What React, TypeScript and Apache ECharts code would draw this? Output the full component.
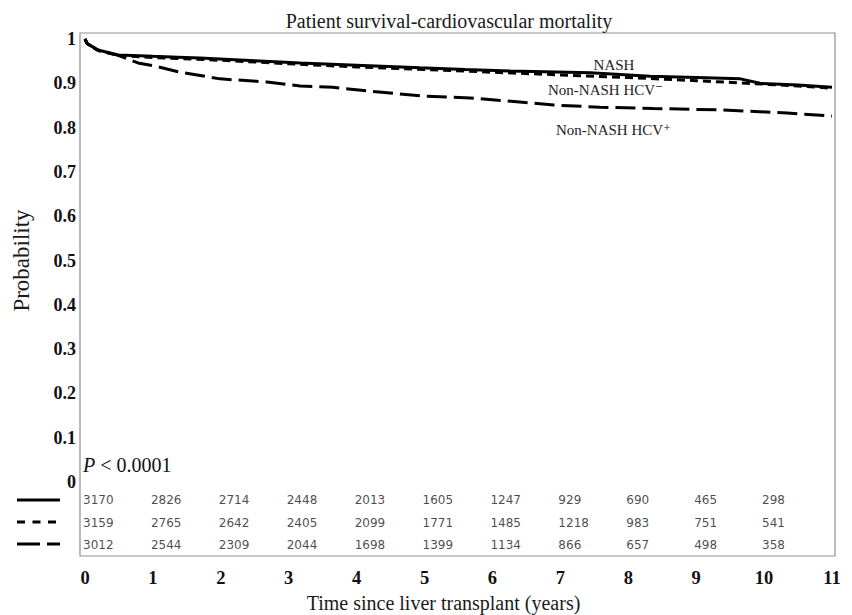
import React, { useEffect, useRef } from "react";
import * as echarts from "echarts";

const yearTicks = [0, 1, 2, 3, 4, 5, 6, 7, 8, 9, 10, 11];
const groupNames = ["NASH", "Non-NASH HCV\u207B", "Non-NASH HCV\u207A"];

const nashTime = [0, 0.03, 0.19, 0.49, 1.0, 1.37, 1.69, 2.5, 3.17, 4.0, 4.93, 5.6, 6.26, 7.44, 8.32, 9.0, 9.65, 9.94, 10.5, 11];
const nashSurv = [1.0, 0.99, 0.975, 0.964, 0.961, 0.959, 0.957, 0.951, 0.946, 0.941, 0.935, 0.931, 0.928, 0.924, 0.916, 0.913, 0.91, 0.9, 0.896, 0.891];

const hcvNegTime = [0, 0.03, 0.19, 0.49, 1.0, 2.0, 3.0, 4.0, 5.0, 6.0, 7.0, 8.0, 9.0, 10.0, 10.5, 11];
const hcvNegSurv = [1.0, 0.99, 0.974, 0.963, 0.958, 0.952, 0.944, 0.937, 0.931, 0.925, 0.919, 0.913, 0.906, 0.898, 0.894, 0.889];

const hcvPosTime = [0, 0.03, 0.19, 0.49, 0.78, 1.0, 1.37, 1.99, 2.68, 3.17, 3.65, 4.15, 4.98, 5.67, 6.4, 6.9, 7.58, 8.37, 9.35, 10.34, 11];
const hcvPosSurv = [1.0, 0.99, 0.975, 0.963, 0.946, 0.94, 0.926, 0.91, 0.903, 0.894, 0.891, 0.883, 0.871, 0.867, 0.858, 0.851, 0.846, 0.843, 0.84, 0.833, 0.826];

const riskNash = [3170, 2826, 2714, 2448, 2013, 1605, 1247, 929, 690, 465, 298];
const riskHcvNeg = [3159, 2765, 2642, 2405, 2099, 1771, 1485, 1218, 983, 751, 541];
const riskHcvPos = [3012, 2544, 2309, 2044, 1698, 1399, 1134, 866, 657, 498, 358];

const SERIF = "'Liberation Serif', 'DejaVu Serif', serif";

export default function App() {
  const ref = useRef<HTMLDivElement>(null);

  useEffect(() => {
    document.body.style.margin = "0";
    document.body.style.overflow = "hidden";
    if (!ref.current) return;
    const chart = echarts.init(ref.current, undefined, { renderer: "svg" });

    const pairs = (t: number[], v: number[]) => t.map((x, i) => [x, v[i]]);
    const riskRows = [riskNash, riskHcvNeg, riskHcvPos];
    const riskData: any[] = [];
    riskRows.forEach((row, r) => {
      row.forEach((n, i) => riskData.push([yearTicks[i], groupNames[r], n]));
    });

    const option: any = {
      animation: false,
      backgroundColor: "#ffffff",
      title: {
        text: "Patient survival-cardiovascular mortality",
        left: 444,
        textAlign: "center",
        top: 6,
        textStyle: { fontFamily: SERIF, fontSize: 20, fontWeight: "normal", color: "#1a1a1a" },
      },
      grid: [
        { left: 85, right: 20, top: 39, bottom: 133 },
        { left: 85, right: 20, top: 489, bottom: 59 },
      ],
      xAxis: [
        { gridIndex: 0, type: "value", min: 0, max: 11, interval: 1, show: false },
        {
          gridIndex: 1,
          type: "value",
          min: 0,
          max: 11,
          interval: 1,
          axisLine: { show: false },
          axisTick: { show: false },
          splitLine: { show: false },
          axisLabel: { margin: 12, fontFamily: SERIF, fontSize: 18.5, fontWeight: "bold", color: "#111" },
          name: "Time since liver transplant (years)",
          nameLocation: "middle",
          nameGap: 37,
          nameTextStyle: { fontFamily: SERIF, fontSize: 20, color: "#1a1a1a", padding: [0, 0, 0, -30] },
        },
      ],
      yAxis: [
        {
          gridIndex: 0,
          type: "value",
          min: 0,
          max: 1,
          interval: 0.1,
          axisLine: { show: false },
          axisTick: { show: false },
          splitLine: { show: false },
          axisLabel: {
            margin: 9,
            fontFamily: SERIF,
            fontSize: 18,
            fontWeight: "bold",
            color: "#111",
            formatter: (v: number) => (v === 0 ? "0" : v === 1 ? "1" : v.toFixed(1)),
          },
          name: "Probability",
          nameLocation: "middle",
          nameGap: 52,
          nameTextStyle: { fontFamily: SERIF, fontSize: 23, color: "#1a1a1a" },
        },
        {
          gridIndex: 1,
          type: "category",
          data: groupNames,
          inverse: true,
          show: false,
        },
      ],
      series: [
        {
          name: groupNames[0],
          type: "line",
          xAxisIndex: 0,
          yAxisIndex: 0,
          data: pairs(nashTime, nashSurv),
          showSymbol: false,
          lineStyle: { color: "#000", width: 3, type: "solid" },
          z: 4,
        },
        {
          name: groupNames[1],
          type: "line",
          xAxisIndex: 0,
          yAxisIndex: 0,
          data: pairs(hcvNegTime, hcvNegSurv),
          showSymbol: false,
          lineStyle: { color: "#000", width: 3, type: [8, 5] },
          z: 3,
        },
        {
          name: groupNames[2],
          type: "line",
          xAxisIndex: 0,
          yAxisIndex: 0,
          data: pairs(hcvPosTime, hcvPosSurv),
          showSymbol: false,
          lineStyle: { color: "#000", width: 3, type: [20, 7] },
          z: 3,
        },
        {
          type: "scatter",
          xAxisIndex: 1,
          yAxisIndex: 1,
          data: riskData,
          symbolSize: 0,
          silent: true,
          label: {
            show: true,
            position: "right",
            distance: -2,
            align: "left",
            verticalAlign: "middle",
            fontFamily: "'DejaVu Sans', sans-serif",
            fontSize: 12,
            color: "#1a1a1a",
            formatter: (p: any) => String(p.value[2]),
          },
        },
      ],
      graphic: [
        {
          type: "rect",
          silent: true,
          z: 0,
          shape: { x: 80, y: 33, width: 755, height: 523 },
          style: { fill: "none", stroke: "#8f8f8f", lineWidth: 1.2 },
        },
        {
          type: "text",
          x: 614,
          y: 65,
          style: { text: groupNames[0], fontFamily: SERIF, fontSize: 15, fill: "#222", align: "center", verticalAlign: "middle" },
        },
        {
          type: "text",
          x: 548,
          y: 90,
          style: { text: groupNames[1], fontFamily: SERIF, fontSize: 15, fill: "#222", align: "left", verticalAlign: "middle" },
        },
        {
          type: "text",
          x: 556,
          y: 130,
          style: { text: groupNames[2], fontFamily: SERIF, fontSize: 15, fill: "#222", align: "left", verticalAlign: "middle" },
        },
        {
          type: "text",
          x: 83,
          y: 465,
          style: {
            text: "{i|P} < 0.0001",
            fontFamily: SERIF,
            fontSize: 20,
            fill: "#111",
            verticalAlign: "middle",
            rich: { i: { fontFamily: SERIF, fontSize: 20, fontStyle: "italic", fill: "#111" } },
          },
        },
        {
          type: "line",
          shape: { x1: 17, y1: 500, x2: 60, y2: 500 },
          style: { stroke: "#000", lineWidth: 3 },
        },
        {
          type: "line",
          shape: { x1: 17, y1: 522, x2: 60, y2: 522 },
          style: { stroke: "#000", lineWidth: 3, lineDash: [8, 7.5] },
        },
        {
          type: "line",
          shape: { x1: 17, y1: 544, x2: 60, y2: 544 },
          style: { stroke: "#000", lineWidth: 3, lineDash: [23, 7] },
        },
      ],
    };

    chart.setOption(option);
    return () => chart.dispose();
  }, []);

  return <div ref={ref} style={{ width: 852, height: 615 }} />;
}
